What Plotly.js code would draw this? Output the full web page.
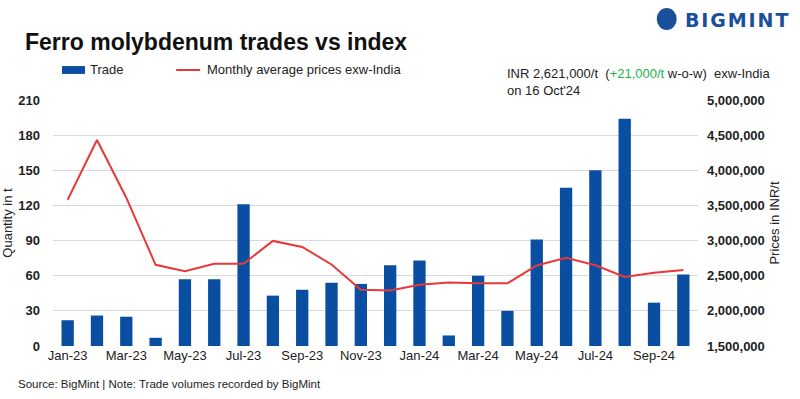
<!DOCTYPE html>
<html><head><meta charset="utf-8">
<script src="https://cdn.plot.ly/plotly-3.0.1.min.js"></script>
<style>html,body{margin:0;padding:0;background:#fff}#c{width:800px;height:399px}</style>
</head><body><div id="c"></div>
<script>
const months = ["Jan-23","Feb-23","Mar-23","Apr-23","May-23","Jun-23","Jul-23","Aug-23","Sep-23","Oct-23","Nov-23","Dec-23",
"Jan-24","Feb-24","Mar-24","Apr-24","May-24","Jun-24","Jul-24","Aug-24","Sep-24","Oct-24"];
const tradeQty = [22,26,25,7,57,57,121,43,48,54,53,69,73,9,60,30,91,135,150,194,37,61];
const avgPrice = [3580000,4430000,3610000,2655000,2565000,2670000,2670000,2995000,2910000,2660000,2300000,2290000,
2370000,2405000,2392000,2392000,2645000,2755000,2648000,2482000,2543000,2581000];
const tickMonths = ["Jan-23","Mar-23","May-23","Jul-23","Sep-23","Nov-23","Jan-24","Mar-24","May-24","Jul-24","Sep-24"];

const F = "'Liberation Sans Narrow', 'Liberation Sans', Arial, sans-serif";
const blue = "#0a4ea2", red = "#e8393a";

const data = [
 {type:"bar", x:months, y:tradeQty, name:"Trade", marker:{color:blue}, yaxis:"y", showlegend:false},
 {type:"scatter", mode:"lines", x:months, y:avgPrice, name:"Monthly average prices exw-India",
  line:{color:red, width:2}, yaxis:"y2", showlegend:false}
];

const layout = {
 width:800, height:399,
 margin:{l:53, r:102, t:100, b:53},
 paper_bgcolor:"#fff", plot_bgcolor:"#fff",
 bargap:0.58,
 font:{family:F, color:"#222"},
 xaxis:{type:"category", tickvals:tickMonths, ticktext:tickMonths, tickfont:{size:13, family:F, color:"#222"},
   showgrid:false, showline:false, ticks:"", range:[-0.5,21.5], zeroline:false, automargin:false},
 yaxis:{range:[0,210], dtick:30, tick0:0, showgrid:true, gridcolor:"#d9d9d9", gridwidth:1,
   tickfont:{size:13, family:"'Liberation Sans', Arial, sans-serif", color:"#222", weight:"bold"},
   zeroline:false, showline:false, ticks:"", ticklabelstandoff:12,
   title:{text:"Quantity in t", font:{size:13, family:F, color:"#222"}, standoff:8}, automargin:false},
 yaxis2:{overlaying:"y", side:"right", range:[1500000,5000000], dtick:500000, tick0:1500000,
   tickformat:",d", showgrid:false, zeroline:false, showline:false, ticks:"", ticklabelstandoff:8,
   tickfont:{size:13, family:"'Liberation Sans', Arial, sans-serif", color:"#222", weight:"bold"},
   title:{text:"Prices in INR/t", font:{size:13, family:F, color:"#222"}, standoff:6}, automargin:false},
 shapes:[
  {type:"rect", xref:"paper", yref:"paper", x0:0.014, x1:0.0496, y0:1.106, y1:1.138, fillcolor:blue, line:{width:0}},
  {type:"line", xref:"paper", yref:"paper", x0:0.191, x1:0.228, y0:1.122, y1:1.122, line:{color:red, width:2}},
  {type:"circle", xref:"paper", yref:"paper", x0:0.936, x1:0.967, y0:1.285, y1:1.374, fillcolor:"#1a4f9c", line:{width:0}}
 ],
 annotations:[
  {text:"<b>Ferro molybdenum trades vs index</b>", xref:"paper", yref:"paper", x:-0.046, y:1.235, xanchor:"left", yanchor:"middle",
   showarrow:false, font:{size:23, family:F, color:"#111"}},
  {text:"Trade", xref:"paper", yref:"paper", x:0.054, y:1.122, xanchor:"left", yanchor:"middle", showarrow:false, font:{size:13, family:F, color:"#222"}},
  {text:"Monthly average prices exw-India", xref:"paper", yref:"paper", x:0.235, y:1.122, xanchor:"left", yanchor:"middle", showarrow:false, font:{size:13, family:F, color:"#222"}},
  {text:"INR 2,621,000/t  (<span style='color:#22b24c'>+21,000/t</span> w-o-w)  exw-India<br>on 16 Oct'24", xref:"paper", yref:"paper",
   x:0.7, y:1.075, xanchor:"left", yanchor:"middle", align:"left", showarrow:false, font:{size:13, family:F, color:"#222"}},
  {text:"<b>B\u200AI\u200AG\u200AM\u200AI\u200AN\u200AT</b>", xref:"paper", yref:"paper", x:1.1426, y:1.325, xanchor:"right", yanchor:"middle", showarrow:false,
   font:{size:19, family:"'DejaVu Sans', sans-serif", color:"#1a4f9c"}},
  {text:"Source: BigMint | Note: Trade volumes recorded by BigMint", xref:"paper", yref:"paper", x:-0.058, y:-0.155, xanchor:"left", yanchor:"middle",
   showarrow:false, font:{size:11.5, family:F, color:"#222"}}
 ]
};
Plotly.newPlot("c", data, layout, {displayModeBar:false, staticPlot:true});
</script></body></html>
